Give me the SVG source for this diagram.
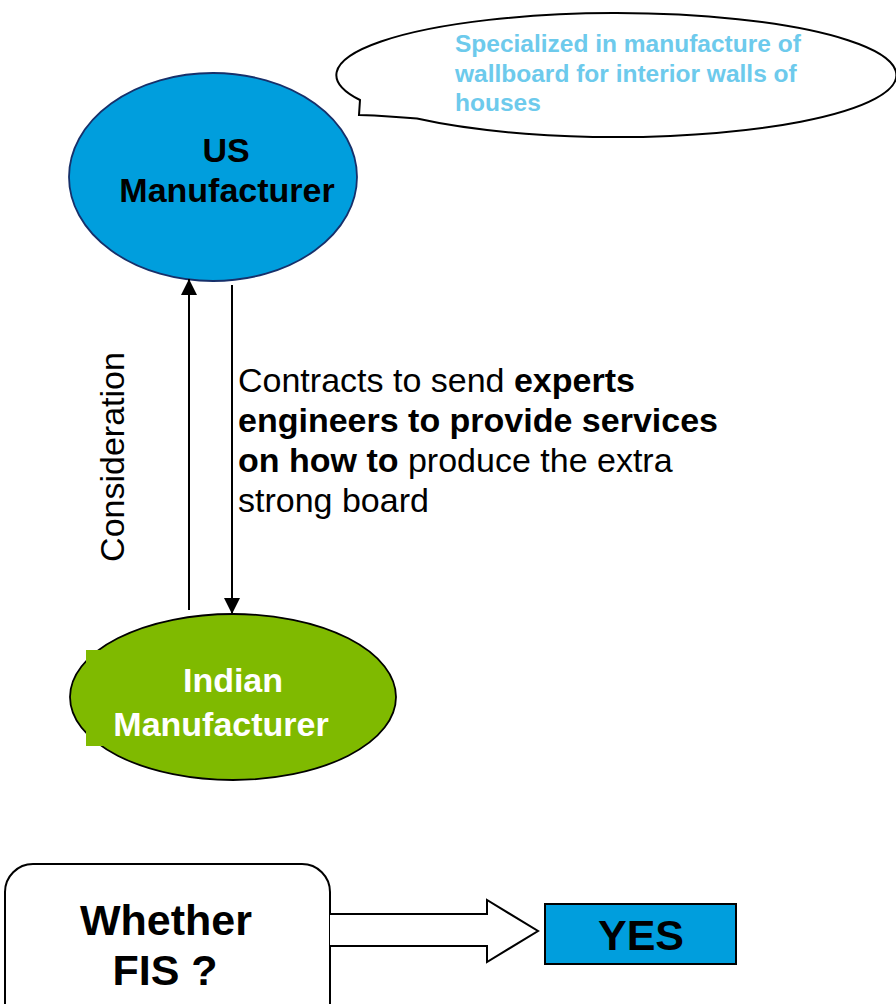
<svg xmlns="http://www.w3.org/2000/svg" width="896" height="1004" viewBox="0 0 896 1004">
<style>
text{font-family:"Liberation Sans",Arial,sans-serif}
.b{font-weight:bold}
.node-label{font-size:34px;font-weight:bold;text-anchor:middle}
.conn{stroke:#000;stroke-width:2;fill:none}
</style>
<defs>
<marker id="ah2" viewBox="0 0 16 16" refX="16" refY="8" markerWidth="16" markerHeight="16" markerUnits="userSpaceOnUse" orient="auto">
<path d="M0,0 L16,8 L0,16 Z" fill="#000"/>
</marker>
</defs>
<rect width="896" height="1004" fill="#fff"/>

<g id="callout">
<path d="M360,100 L359,115 Q390,116 417,118.6 A280 62 0 1 0 360,100 Z" fill="#fff" stroke="#000" stroke-width="2"/>
<text x="455" y="52" class="b" font-size="24.5" fill="#6DCAEC">Specialized in manufacture of</text>
<text x="455" y="82" class="b" font-size="24.5" fill="#6DCAEC">wallboard for interior walls of</text>
<text x="455" y="111" class="b" font-size="24.5" fill="#6DCAEC">houses</text>
</g>

<g id="us-manufacturer">
<ellipse cx="213" cy="177" rx="144" ry="104" fill="#009EDD" stroke="#17306A" stroke-width="1.8"/>
<text x="226" y="162" class="node-label">US</text>
<text x="227" y="202" class="node-label">Manufacturer</text>
</g>

<g id="indian-manufacturer">
<ellipse cx="233" cy="697" rx="163" ry="83" fill="#7FBA00" stroke="#000" stroke-width="1.8"/>
<rect x="86" y="650" width="20" height="96" fill="#7FBA00"/>
<text x="233" y="692" class="node-label" fill="#fff">Indian</text>
<text x="221" y="736" class="node-label" fill="#fff">Manufacturer</text>
</g>

<g id="connectors">
<line x1="189" y1="610" x2="189" y2="279" class="conn" marker-end="url(#ah2)"/>
<line x1="232" y1="285" x2="232" y2="614" class="conn" marker-end="url(#ah2)"/>
<text transform="translate(124,457) rotate(-90)" font-size="34" text-anchor="middle">Consideration</text>
<text x="238" y="392" font-size="34">Contracts to send <tspan class="b">experts</tspan></text>
<text x="238" y="432" font-size="34" class="b">engineers to provide services</text>
<text x="238" y="472" font-size="34"><tspan class="b">on how to</tspan> produce the extra</text>
<text x="238" y="512" font-size="34">strong board</text>
</g>

<g id="whether-fis">
<rect x="5" y="864" width="325" height="170" rx="28" fill="#fff" stroke="#000" stroke-width="2"/>
<text x="166" y="935" class="b" font-size="43" text-anchor="middle">Whether</text>
<text x="165" y="985" class="b" font-size="43" text-anchor="middle">FIS ?</text>
</g>

<g id="block-arrow">
<path d="M330,914 L487,914 L487,900 L538,931 L487,962 L487,946 L330,946" fill="#fff" stroke="#000" stroke-width="2"/>
</g>

<g id="yes">
<rect x="545" y="904" width="191" height="60" fill="#009EDD" stroke="#000" stroke-width="2"/>
<text x="641" y="950" class="b" font-size="43" text-anchor="middle">YES</text>
</g>
</svg>
